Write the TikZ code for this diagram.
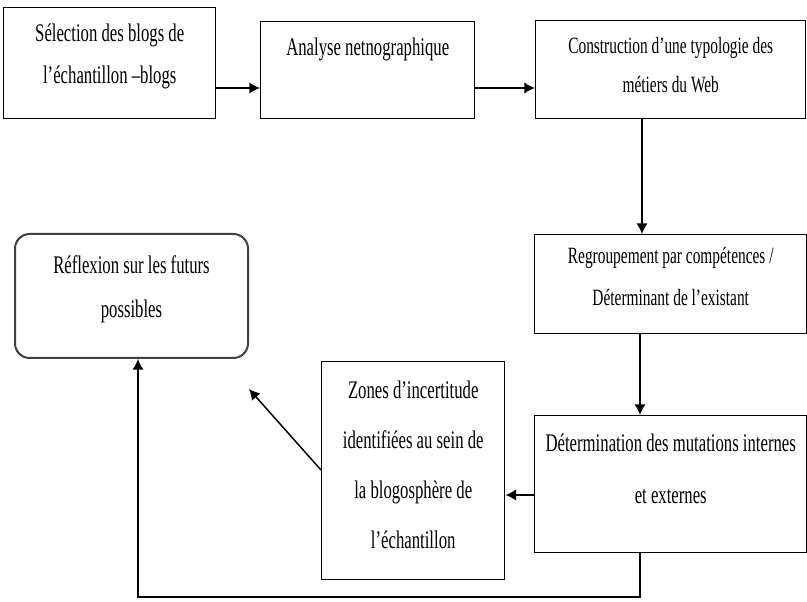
\documentclass[tikz,border=0pt]{standalone}
\usepackage{fontspec}
\setmainfont[FakeStretch=0.66]{Liberation Serif}
\usepackage{tikz}
\usetikzlibrary{arrows.meta,calc,positioning}

\newdimen\px \px=0.75pt
% box text: [size]{width}{height}{first baseline}{line skip}{text}, all in px
\newcommand{\boxtext}[6][19pt]{\parbox[c][#3\px][t]{#2\px}{\centering\fontsize{#1}{#5\px}\selectfont
  \vspace*{\dimexpr#4\px-15pt\relax}\rule{0pt}{15pt}#6}}

\tikzset{%
  >={Latex[length=8pt,width=8.5pt]},
  stepbox/.style = { draw, rectangle, inner sep=0pt, anchor=north west, line width=1.1pt },
  roundbox/.style = { stepbox, rounded corners=11pt, draw=black!75, line width=1.5pt },
  line/.style     = { draw, line width=1.1pt, ->, shorten >=0pt }
}

\begin{document}
\begin{tikzpicture}[x=0.75pt,y=-0.75pt]
	\useasboundingbox (0,0) rectangle (807,602);

	% top row
	\node[stepbox] (sel) at (3,7) {\boxtext{212}{111}{34}{42}{S\'election des blogs de\\ l’\'echantillon –blogs}};
	\node[stepbox] (ana) at (260,21) {\boxtext{214}{97}{34}{42}{Analyse netnographique}};
	\node[stepbox] (typo) at (535,20) {\boxtext[17.5pt]{270}{98}{33}{39}{Construction d’une typologie des\\ m\'etiers du Web}};

	% right column
	\node[stepbox] (regr) at (534,234) {\boxtext[17.5pt]{272}{99}{29}{42}{Regroupement par comp\'etences /\\ D\'eterminant de l’existant}};
	\node[stepbox] (mut) at (534,415) {\boxtext{272}{137}{36}{52}{D\'etermination des mutations internes\\ et externes}};

	% left part
	\node[stepbox] (zone) at (321,361) {\boxtext{183}{218}{37}{50}{Zones d’incertitude\\ identifi\'ees au sein de\\ la blogosph\`ere de\\ l’\'echantillon}};
	\node[roundbox] (refl) at (14,233) {\boxtext{233}{124}{40}{44}{R\'eflexion sur les futurs\\ possibles}};

	\coordinate (reflend) at ($(refl.south east)+(0,30)$);

	\path[line] (sel.east |- 0,88) -- (ana.west |- 0,88);
	\path[line] (ana.east |- 0,88) -- (typo.west |- 0,88);
	\path[line] (642,0 |- typo.south) -- (642,0 |- regr.north);
	\path[line] (640,0 |- regr.south) -- (640,0 |- mut.north);
	\path[line] (mut.west |- 0,495) -- (zone.east |- 0,495);
	\path[line] (zone.west |- 0,470) -- (reflend);
	\path[line] (640,0 |- mut.south) -- (640,597) -| (138,0 |- refl.south);
\end{tikzpicture}
\end{document}
